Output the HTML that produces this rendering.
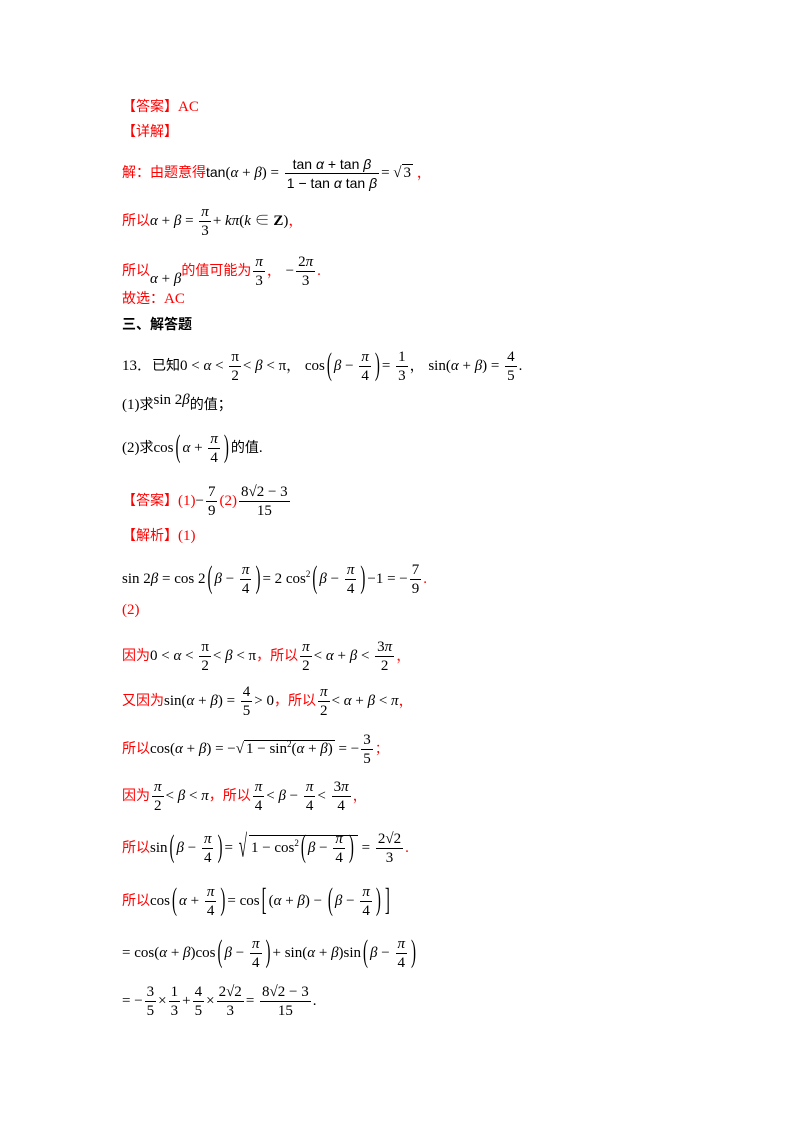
<!DOCTYPE html>
<html><head><meta charset="utf-8"><style>
body{margin:0;width:800px;height:1132px;background:#fff;position:relative;font-family:"Liberation Serif","Noto Serif CJK SC",serif;font-size:15px;color:#000;}
.l{position:absolute;left:122px;white-space:nowrap;line-height:20px;}
.r{color:#f00;}
.c{font-family:"Noto Sans CJK SC","Liberation Sans",sans-serif;font-size:14px;}
.f{display:inline-block;vertical-align:middle;text-align:center;line-height:18px;margin:0 2px;}
.f>span{display:block;padding:0 2px;}
.f>span+span{border-top:1px solid #000;}
i{font-style:italic;}
.bp{display:inline-block;transform:scaleY(2.1);font-weight:100;margin:0 2px;}
.sq{border-top:1px solid #000;padding:0 2px;}
.ss{font-size:9px;vertical-align:6px;}
.tn{font-family:"Liberation Sans",sans-serif;font-size:14px;}
</style></head><body>
<div class="l r c" style="top:96px">【答案】<span style="font-family:'Liberation Serif';font-size:15px">AC</span></div>
<div class="l r c" style="top:121px">【详解】</div>
<div class="l" style="top:155px"><span class="r c">解：由题意得</span><span class="tn">tan</span>(<i>α</i> + <i>β</i>) = <span class="f tn"><span>tan <i>α</i> + tan <i>β</i></span><span>1 − tan <i>α</i> tan <i>β</i></span></span>= √<span class="sq">3</span> <span class="r">，</span></div>
<div class="l" style="top:203px"><span class="r c">所以</span><i>α</i> + <i>β</i> = <span class="f"><span><i>π</i></span><span>3</span></span>+ <i>kπ</i>(<i>k</i> ∈ <b>Z</b>)<span class="r">，</span></div>
<div class="l" style="top:253px"><span class="r c">所以</span><span style="vertical-align:-8px"><i>α</i> + <i>β</i></span><span class="r c">的值可能为</span><span class="f"><span><i>π</i></span><span>3</span></span><span class="r">，</span>  −<span class="f"><span>2<i>π</i></span><span>3</span></span><span class="r">.</span></div>
<div class="l r c" style="top:288px">故选：<span style="font-family:'Liberation Serif';font-size:15px">AC</span></div>
<div class="l c" style="top:314px;font-weight:bold">三、解答题</div>
<div class="l" style="top:348px">13．<span class="c">已知</span>0 &lt; <i>α</i> &lt; <span class="f"><span>π</span><span>2</span></span>&lt; <i>β</i> &lt; π，  cos<span class="bp">(</span><i>β</i> − <span class="f"><span><i>π</i></span><span>4</span></span><span class="bp">)</span>= <span class="f"><span>1</span><span>3</span></span>，  sin(<i>α</i> + <i>β</i>) = <span class="f"><span>4</span><span>5</span></span>.</div>
<div class="l" style="top:390px">(1)<span class="c">求</span><span style="vertical-align:5px">sin 2<i>β</i></span><span class="c">的值；</span></div>
<div class="l" style="top:430px">(2)<span class="c">求</span>cos<span class="bp">(</span><i>α</i> + <span class="f"><span><i>π</i></span><span>4</span></span><span class="bp">)</span><span class="c">的值</span>.</div>
<div class="l" style="top:483px"><span class="r c">【答案】</span><span class="r">(1)</span>−<span class="f"><span>7</span><span>9</span></span><span class="r">(2)</span><span class="f"><span>8√2 − 3</span><span>15</span></span></div>
<div class="l r" style="top:525px"><span class="c">【解析】</span>(1)</div>
<div class="l" style="top:561px">sin 2<i>β</i> = cos 2<span class="bp">(</span><i>β</i> − <span class="f"><span><i>π</i></span><span>4</span></span><span class="bp">)</span>= 2 cos<span class="ss">2</span><span class="bp">(</span><i>β</i> − <span class="f"><span><i>π</i></span><span>4</span></span><span class="bp">)</span>−1 = −<span class="f"><span>7</span><span>9</span></span><span class="r">.</span></div>
<div class="l r" style="top:600px">(2)</div>
<div class="l" style="top:638px"><span class="r c">因为</span>0 &lt; <i>α</i> &lt; <span class="f"><span>π</span><span>2</span></span>&lt; <i>β</i> &lt; π<span class="r c">，所以</span><span class="f"><span><i>π</i></span><span>2</span></span>&lt; <i>α</i> + <i>β</i> &lt; <span class="f"><span>3<i>π</i></span><span>2</span></span><span class="r">，</span></div>
<div class="l" style="top:683px"><span class="r c">又因为</span>sin(<i>α</i> + <i>β</i>) = <span class="f"><span>4</span><span>5</span></span>&gt; 0<span class="r c">，所以</span><span class="f"><span><i>π</i></span><span>2</span></span>&lt; <i>α</i> + <i>β</i> &lt; <i>π</i><span class="r">，</span></div>
<div class="l" style="top:731px"><span class="r c">所以</span>cos(<i>α</i> + <i>β</i>) = −√<span class="sq">1 − sin<span class="ss">2</span>(<i>α</i> + <i>β</i>)</span> = −<span class="f"><span>3</span><span>5</span></span><span class="r">；</span></div>
<div class="l" style="top:778px"><span class="r c">因为</span><span class="f"><span><i>π</i></span><span>2</span></span>&lt; <i>β</i> &lt; <i>π</i><span class="r c">，所以</span><span class="f"><span><i>π</i></span><span>4</span></span>&lt; <i>β</i> − <span class="f"><span><i>π</i></span><span>4</span></span>&lt; <span class="f"><span>3<i>π</i></span><span>4</span></span><span class="r">，</span></div>
<div class="l" style="top:830px"><span class="r c">所以</span>sin<span class="bp">(</span><i>β</i> − <span class="f"><span><i>π</i></span><span>4</span></span><span class="bp">)</span>= <span class="bp">√</span><span class="sq" style="padding-top:4px">1 − cos<span class="ss">2</span><span class="bp">(</span><i>β</i> − <span class="f"><span><i>π</i></span><span>4</span></span><span class="bp">)</span></span> = <span class="f"><span>2√2</span><span>3</span></span><span class="r">.</span></div>
<div class="l" style="top:883px"><span class="r c">所以</span>cos<span class="bp">(</span><i>α</i> + <span class="f"><span><i>π</i></span><span>4</span></span><span class="bp">)</span>= cos<span class="bp">[</span>(<i>α</i> + <i>β</i>) − <span class="bp">(</span><i>β</i> − <span class="f"><span><i>π</i></span><span>4</span></span><span class="bp">)</span><span class="bp">]</span></div>
<div class="l" style="top:935px">= cos(<i>α</i> + <i>β</i>)cos<span class="bp">(</span><i>β</i> − <span class="f"><span><i>π</i></span><span>4</span></span><span class="bp">)</span>+ sin(<i>α</i> + <i>β</i>)sin<span class="bp">(</span><i>β</i> − <span class="f"><span><i>π</i></span><span>4</span></span><span class="bp">)</span></div>
<div class="l" style="top:983px">= −<span class="f"><span>3</span><span>5</span></span>×<span class="f"><span>1</span><span>3</span></span>+<span class="f"><span>4</span><span>5</span></span>×<span class="f"><span>2√2</span><span>3</span></span>= <span class="f"><span>8√2 − 3</span><span>15</span></span>.</div>
</body></html>
